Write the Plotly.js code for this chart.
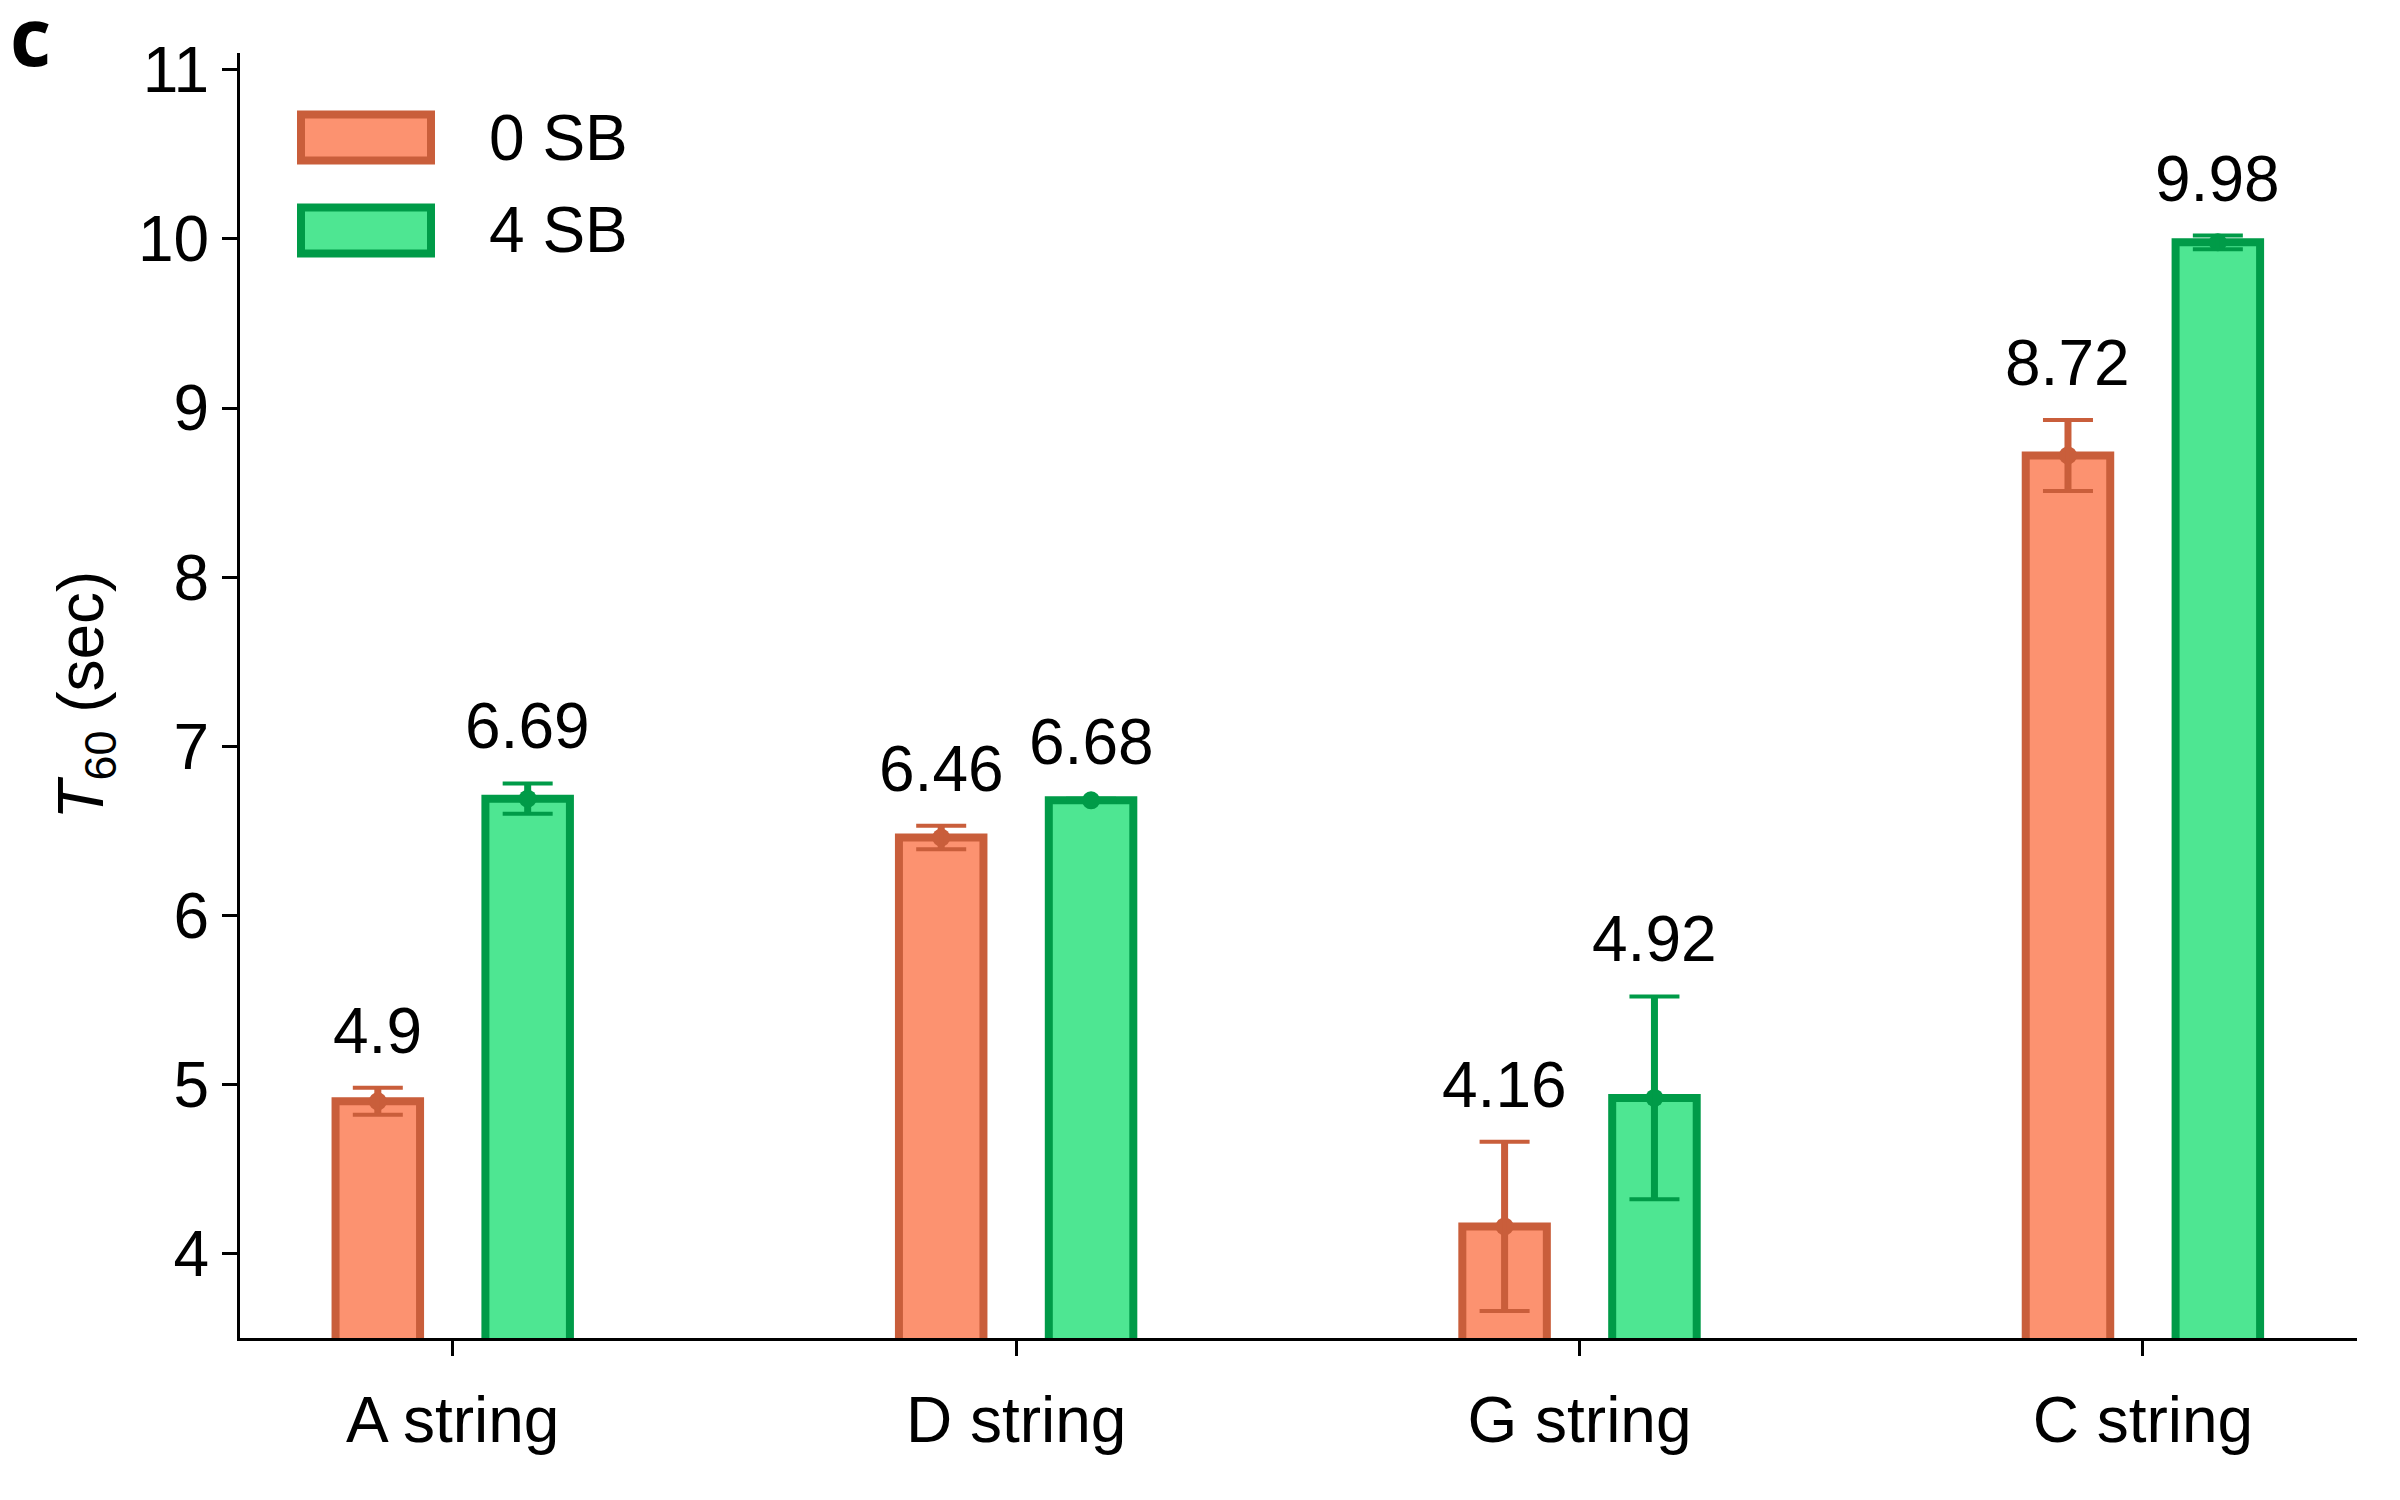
<!DOCTYPE html>
<html>
<head>
<meta charset="utf-8">
<script src="https://cdn.plot.ly/plotly-3.0.1.min.js"></script>
<style>html,body{margin:0;padding:0;background:#fff;}#chart{width:2400px;height:1500px;}</style>
</head>
<body>
<div id="chart"></div>
<script>
// ---- data ----
const categories = ['A string', 'D string', 'G string', 'C string'];
const seriesNames = ['0 SB', '4 SB'];
const sb0 = [4.9, 6.46, 4.16, 8.72];
const sb0Err = [0.08, 0.07, 0.5, 0.21];
const sb4 = [6.69, 6.68, 4.92, 9.98];
const sb4Err = [0.09, 0.01, 0.6, 0.04];
const yTicks = [4, 5, 6, 7, 8, 9, 10, 11];

// ---- style ----
const FONT = '"Liberation Sans", Arial, Helvetica, sans-serif';
const fills = ['#fc9270', '#4ee692'];
const edges = ['#c95e3b', '#009b48'];
const barWidth = 0.15;
const shift = 0.133;

const W = 2400, H = 1500;
const L = 240, R = 2357, T = 53, B = 1338;
const px = x => (x - L) / (R - L);
const py = y => (B - y) / (B - T);

const idx = categories.map((_, i) => i);
const series = [sb0, sb4];
const errs = [sb0Err, sb4Err];
const signs = [-1, 1];

const traces = [];
series.forEach((vals, s) => {
  traces.push({
    type: 'bar', x: idx, y: vals, name: seriesNames[s],
    width: barWidth, offset: signs[s] * shift - barWidth / 2,
    marker: {color: fills[s], line: {color: edges[s], width: 8}},
    showlegend: false, hoverinfo: 'skip'
  });
});
series.forEach((vals, s) => {
  const xs = idx.map(i => i + signs[s] * shift);
  // thick stems + markers
  traces.push({
    type: 'scatter', mode: 'markers', x: xs, y: vals,
    marker: {color: edges[s], size: 18},
    error_y: {type: 'data', array: errs[s], visible: true, color: edges[s], thickness: 7, width: 0},
    showlegend: false, hoverinfo: 'skip'
  });
  // thin caps
  traces.push({
    type: 'scatter', mode: 'markers', x: xs, y: vals,
    marker: {color: edges[s], size: 0, opacity: 0},
    error_y: {type: 'data', array: errs[s], visible: true, color: edges[s], thickness: 4, width: 25},
    showlegend: false, hoverinfo: 'skip'
  });
});

const annotations = [];
series.forEach((vals, s) => {
  vals.forEach((v, i) => {
    annotations.push({
      x: i + signs[s] * shift, y: v + errs[s][i], xref: 'x', yref: 'y',
      text: String(v), showarrow: false, yanchor: 'bottom', xanchor: 'center',
      yshift: 19, font: {family: FONT, size: 64, color: '#000'}
    });
  });
});

// legend (drawn manually)
const shapes = [];
const legendRows = [137.5, 230.5];
seriesNames.forEach((n, s) => {
  const cy = legendRows[s];
  shapes.push({
    type: 'rect', xref: 'paper', yref: 'paper',
    x0: px(301), x1: px(431), y0: py(cy - 23), y1: py(cy + 23),
    fillcolor: fills[s], line: {color: edges[s], width: 8}
  });
  annotations.push({
    xref: 'paper', yref: 'paper', x: px(487), y: py(cy), xanchor: 'left', yanchor: 'middle',
    text: n, showarrow: false, font: {family: FONT, size: 64, color: '#000'}
  });
});

// y-axis title
annotations.push({
  xref: 'paper', yref: 'paper', x: px(84), y: 0.5, xanchor: 'center', yanchor: 'middle',
  textangle: -90, text: '<i>T</i><sub>60</sub> (sec)', showarrow: false,
  font: {family: FONT, size: 64, color: '#000'}
});
// panel label
annotations.push({
  xref: 'paper', yref: 'paper', x: px(8), y: py(34), xanchor: 'left', yanchor: 'middle',
  text: '<b>c</b>', showarrow: false,
  font: {family: '"Open Sans", "Noto Sans", sans-serif', size: 80, color: '#000'}
});

const layout = {
  width: W, height: H,
  margin: {l: L, r: W - R, t: T, b: H - B, pad: 0},
  paper_bgcolor: '#fff', plot_bgcolor: '#fff',
  barmode: 'overlay',
  showlegend: false,
  font: {family: FONT, size: 64, color: '#000'},
  xaxis: {
    range: [-0.3776, 3.380], tickvals: idx, ticktext: categories,
    showgrid: false, zeroline: false, showline: true, linecolor: '#000', linewidth: 3,
    ticks: 'outside', ticklen: 15, tickwidth: 3, tickcolor: '#000',
    ticklabelstandoff: 9, tickfont: {family: FONT, size: 64, color: '#000'}
  },
  yaxis: {
    range: [3.5, 11.1], tickvals: yTicks, ticktext: yTicks.map(String),
    showgrid: false, zeroline: false, showline: true, linecolor: '#000', linewidth: 3,
    ticks: 'outside', ticklen: 15, tickwidth: 3, tickcolor: '#000',
    ticklabelstandoff: 0, tickfont: {family: FONT, size: 64, color: '#000'}
  },
  shapes: shapes,
  annotations: annotations
};

Plotly.newPlot('chart', traces, layout, {staticPlot: true, displayModeBar: false});
</script>
</body>
</html>
